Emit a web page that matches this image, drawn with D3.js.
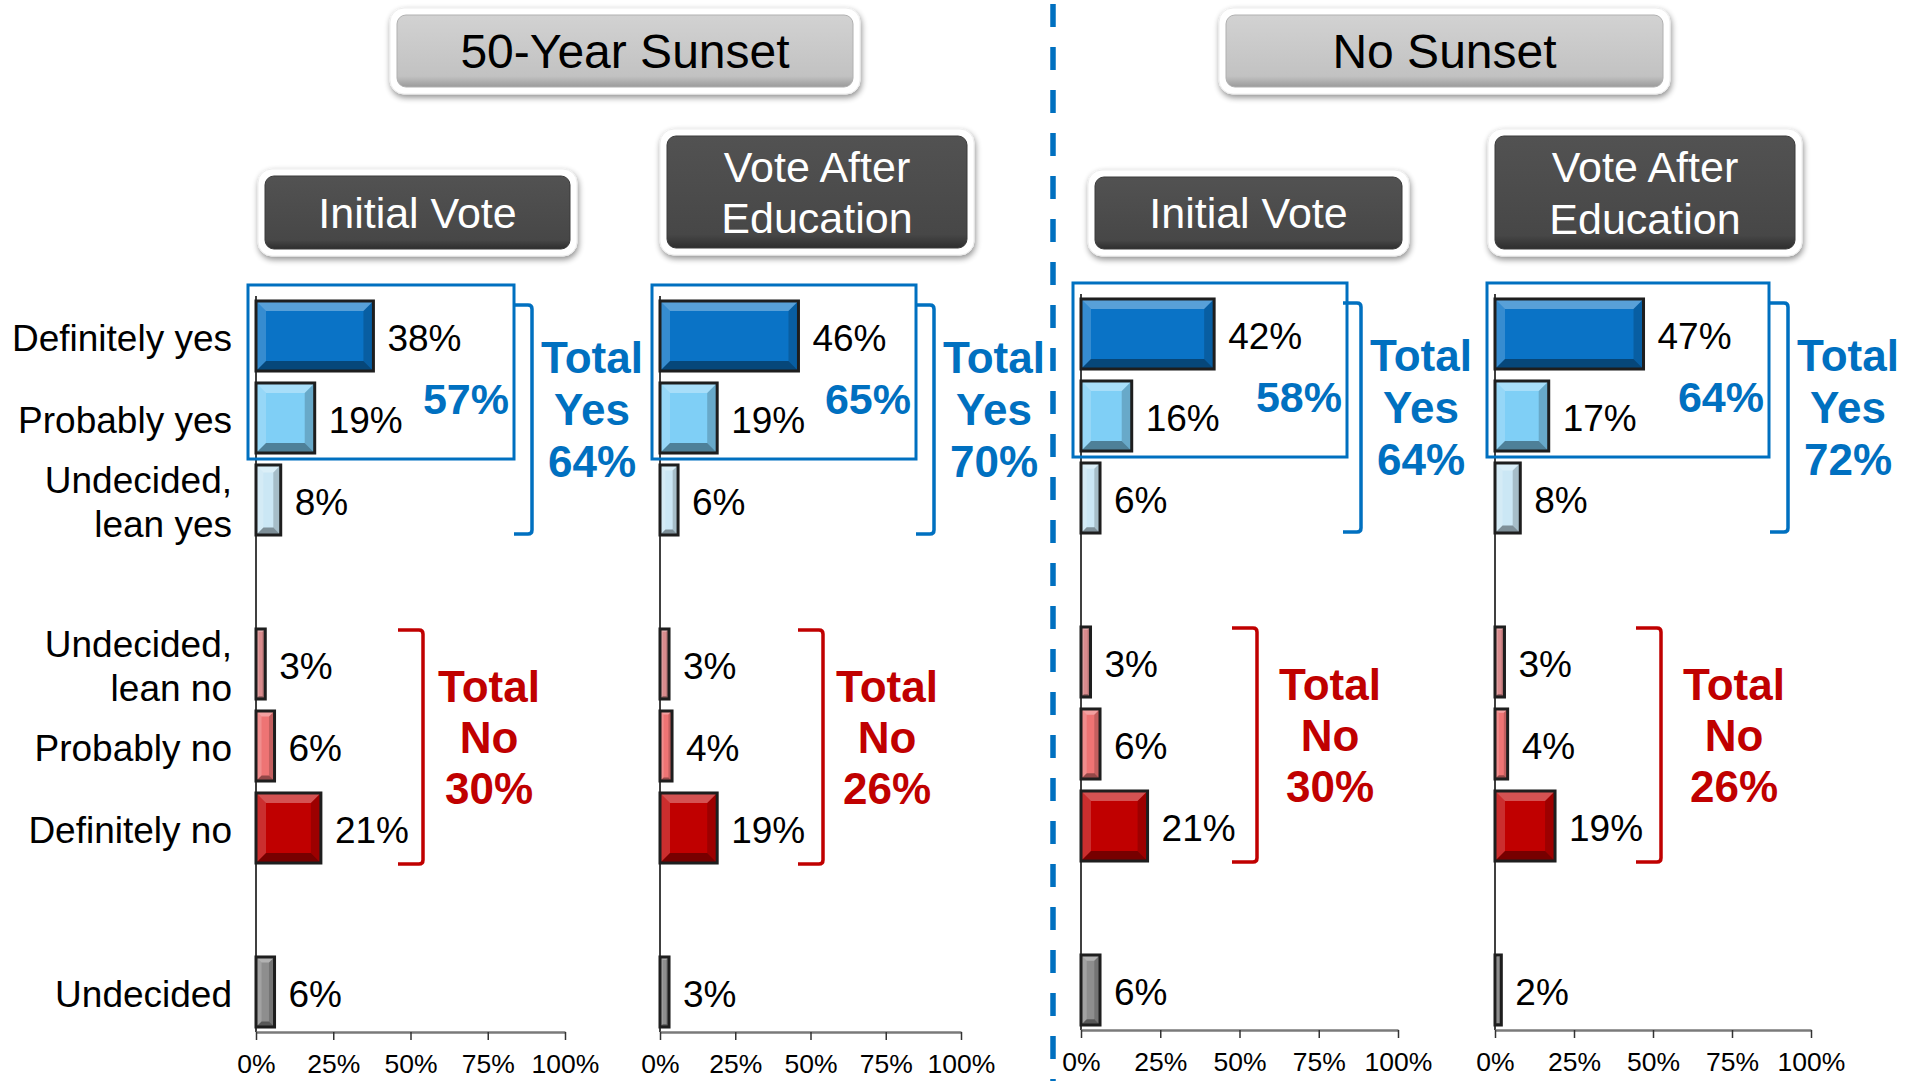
<!DOCTYPE html>
<html>
<head>
<meta charset="utf-8">
<script src="https://cdn.jsdelivr.net/npm/d3@7"></script>
<style>
  body { margin: 0; background: #fff; }
  svg { display: block; }
  text { font-family: "Liberation Sans", Arial, sans-serif; }
</style>
</head>
<body>
<script>
// ---- data ----
const categories = ["Definitely yes", "Probably yes", "Undecided, lean yes",
  "Undecided, lean no", "Probably no", "Definitely no", "Undecided"];
const sunset50Initial = [38, 19, 8, 3, 6, 21, 6];
const sunset50After = [46, 19, 6, 3, 4, 19, 3];
const noSunsetInitial = [42, 16, 6, 3, 6, 21, 6];
const noSunsetAfter = [47, 17, 8, 3, 4, 19, 2];
const yesInner = ["57%", "65%", "58%", "64%"];
const yesTotal = ["64%", "70%", "64%", "72%"];
const noTotal = ["30%", "26%", "30%", "26%"];
const groupTitles = ["50-Year Sunset", "No Sunset"];
const panelTitles = ["Initial Vote", "Vote After|Education", "Initial Vote", "Vote After|Education"];
const tickValues = [0, 25, 50, 75, 100];

// ---- colours ----
const barColor = ["#0A73C6", "#7FCFF6", "#CBE7F5", "#D98B8D", "#EE7474", "#C00000", "#8E8E8E"];
const BLUE = "#0070C0", RED = "#C00000";

// ---- layout ----
const W = 1905, H = 1081;
// band slots, two empty spacers between groups
const slots = ["c0", "c1", "c2", "gap1", "c3", "c4", "c5", "gap2", "c6"];
const panelLayout = [
  { x0: 256, x1: 565, box: [258, 169, 319, 87], yesW: 266, yesBr: 18, noBr: 167, noTx: 66, dy: 0 },
  { x0: 660, x1: 961, box: [660, 129, 314, 126], yesW: 264, yesBr: 18, noBr: 163, noTx: 64, dy: 0 },
  { x0: 1081, x1: 1398, box: [1088, 170, 321, 86], yesW: 274, yesBr: 14, noBr: 176, noTx: 73, dy: -2 },
  { x0: 1495, x1: 1811, box: [1488, 129, 314, 127], yesW: 282, yesBr: 19, noBr: 166, noTx: 73, dy: -2 }
];
const groupBoxes = [[390, 8, 470, 86], [1219, 8, 451, 86]];
const seriesList = [sunset50Initial, sunset50After, noSunsetInitial, noSunsetAfter];

const svg = d3.select("body").append("svg").attr("width", W).attr("height", H);
const defs = svg.append("defs");

const shadow = defs.append("filter").attr("id", "shadow")
  .attr("x", "-10%").attr("y", "-20%").attr("width", "120%").attr("height", "150%");
shadow.append("feGaussianBlur").attr("in", "SourceAlpha").attr("stdDeviation", 3);
shadow.append("feOffset").attr("dx", 1).attr("dy", 3).attr("result", "ob");
shadow.append("feComponentTransfer").append("feFuncA").attr("type", "linear").attr("slope", 0.45);
const merge = shadow.append("feMerge");
merge.append("feMergeNode");
merge.append("feMergeNode").attr("in", "SourceGraphic");

function vgrad(id, stops) {
  const g = defs.append("linearGradient").attr("id", id)
    .attr("x1", 0).attr("y1", 0).attr("x2", 0).attr("y2", 1);
  stops.forEach(s => g.append("stop").attr("offset", s[0]).attr("stop-color", s[1]));
}
vgrad("grayGrad", [[0, "#D2D2D2"], [0.85, "#C2C2C2"], [1, "#9A9A9A"]]);
vgrad("darkGrad", [[0, "#525252"], [0.88, "#474747"], [1, "#2E2E2E"]]);

function labelBox(x, y, w, h, lines, dark, fs) {
  const g = svg.append("g");
  g.append("rect").attr("x", x).attr("y", y).attr("width", w).attr("height", h)
    .attr("rx", 14).attr("fill", "#fff").attr("stroke", "#EDEDED").attr("stroke-width", 1)
    .attr("filter", "url(#shadow)");
  g.append("rect").attr("x", x + 7).attr("y", y + 7).attr("width", w - 14).attr("height", h - 14)
    .attr("rx", 9).attr("fill", dark ? "url(#darkGrad)" : "url(#grayGrad)")
    .attr("stroke", dark ? "#3A3A3A" : "#B0B0B0").attr("stroke-width", 1);
  const cy = y + h / 2, n = lines.length, L = fs * 1.2;
  lines.forEach((t, i) => {
    g.append("text").attr("x", x + w / 2)
      .attr("y", cy + 0.358 * fs + (i - (n - 1) / 2) * L)
      .attr("text-anchor", "middle").attr("font-size", fs)
      .attr("fill", dark ? "#fff" : "#000").text(t);
  });
}

function bevelBar(g, x, y, w, h, color) {
  const b = Math.max(1.5, Math.min(10, w * 0.3, h * 0.2));
  g.append("rect").attr("x", x).attr("y", y).attr("width", w).attr("height", h).attr("fill", color);
  const faces = [
    [[[x, y], [x + w, y], [x + w - b, y + b], [x + b, y + b]], "#fff", 0.32],
    [[[x, y], [x + b, y + b], [x + b, y + h - b], [x, y + h]], "#fff", 0.18],
    [[[x + w, y], [x + w, y + h], [x + w - b, y + h - b], [x + w - b, y + b]], "#000", 0.18],
    [[[x, y + h], [x + b, y + h - b], [x + w - b, y + h - b], [x + w, y + h]], "#000", 0.38]
  ];
  faces.forEach(f => g.append("polygon").attr("points", f[0].map(p => p.join(",")).join(" "))
    .attr("fill", f[1]).attr("fill-opacity", f[2]));
  g.append("rect").attr("x", x).attr("y", y).attr("width", w).attr("height", h)
    .attr("fill", "none").attr("stroke", "#1E1E1E").attr("stroke-width", 3);
}

function bracket(x, yTop, yBot, len, color) {
  svg.append("path")
    .attr("d", `M${x - len},${yTop} L${x - 4},${yTop} Q${x},${yTop} ${x},${yTop + 4} L${x},${yBot - 4} Q${x},${yBot} ${x - 4},${yBot} L${x - len},${yBot}`)
    .attr("fill", "none").attr("stroke", color).attr("stroke-width", 3.5);
}

function stackText(x, y0, lines, color, fs, step, anchor) {
  lines.forEach((t, i) => svg.append("text").attr("x", x).attr("y", y0 + i * step)
    .attr("text-anchor", anchor || "middle").attr("font-size", fs).attr("font-weight", "bold")
    .attr("fill", color).text(t));
}

// group headers
groupBoxes.forEach((b, i) => labelBox(b[0], b[1], b[2], b[3], [groupTitles[i]], false, 48));

// divider
svg.append("line").attr("x1", 1053).attr("x2", 1053).attr("y1", 4).attr("y2", H)
  .attr("stroke", BLUE).attr("stroke-width", 5.5).attr("stroke-dasharray", "23,20");

// category labels (left of first panel)
const yLab = d3.scaleBand().domain(slots).range([295, 1033]).paddingInner(0.146).paddingOuter(0.073);
categories.forEach((c, i) => {
  const cy = yLab("c" + i) + yLab.bandwidth() / 2;
  const parts = c.includes(",") ? [c.slice(0, c.indexOf(",") + 1), c.slice(c.indexOf(",") + 2)] : [c];
  parts.forEach((t, k) => svg.append("text").attr("x", 232)
    .attr("y", cy + 15 + (k - (parts.length - 1) / 2) * 44)
    .attr("text-anchor", "end").attr("font-size", 37).attr("fill", "#000").text(t));
});

panelLayout.forEach((p, pi) => {
  const vals = seriesList[pi];
  const x = d3.scaleLinear().domain([0, 100]).range([p.x0, p.x1]);
  const y = d3.scaleBand().domain(slots).range([295 + p.dy, 1033 + p.dy])
    .paddingInner(0.146).paddingOuter(0.073);
  const bw = y.bandwidth();

  labelBox(p.box[0], p.box[1], p.box[2], p.box[3], panelTitles[pi].split("|"), true, 43);

  // vertical axis line
  svg.append("line").attr("x1", x(0)).attr("x2", x(0)).attr("y1", 296 + p.dy).attr("y2", y.range()[1] - 1)
    .attr("stroke", "#000").attr("stroke-width", 1.5);

  const g = svg.append("g");
  vals.forEach((v, i) => {
    const yy = y("c" + i);
    bevelBar(g, x(0), yy, x(v) - x(0), bw, barColor[i]);
    g.append("text").attr("x", x(v) + 14).attr("y", yy + bw / 2 + 15)
      .attr("font-size", 37).attr("fill", "#000").text(v + "%");
  });

  // x axis
  const ax = svg.append("g").attr("transform", `translate(0,${y.range()[1] - 1})`)
    .call(d3.axisBottom(x).tickValues(tickValues).tickFormat(d => d + "%")
      .tickSize(8).tickSizeOuter(0).tickPadding(14));
  ax.select(".domain").attr("stroke", "#7A7A7A").attr("stroke-width", 2.5);
  ax.selectAll(".tick line").attr("stroke", "#333").attr("stroke-width", 1.5);
  ax.selectAll(".tick text").attr("font-size", 26.5).attr("fill", "#000")
    .attr("font-family", '"Liberation Sans", Arial, sans-serif');

  // total yes box + bracket
  const yTop = y("c0"), yProb = y("c1"), yLean = y("c2");
  const bx = p.x0 - 8;
  svg.append("rect").attr("x", bx).attr("y", yTop - 16).attr("width", p.yesW)
    .attr("height", yProb + bw + 6 - (yTop - 16))
    .attr("fill", "none").attr("stroke", BLUE).attr("stroke-width", 3);
  stackText(bx + p.yesW - 5, yProb + 31, [yesInner[pi]], BLUE, 43, 0, "end");
  const brx = bx + p.yesW + p.yesBr;
  bracket(brx, yTop + 4, yLean + bw - 1, 18, BLUE);
  stackText(brx + 60, yTop + 72, ["Total", "Yes", yesTotal[pi]], BLUE, 44, 52);

  // total no bracket
  const nbx = p.x0 + p.noBr;
  bracket(nbx, y("c3") + 1, y("c5") + bw + 1, 25, RED);
  stackText(nbx + p.noTx, y("c3") + 73, ["Total", "No", noTotal[pi]], RED, 44, 51);
});
</script>
</body>
</html>
